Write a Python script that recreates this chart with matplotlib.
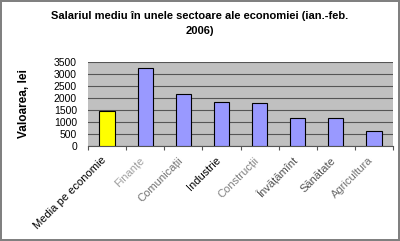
import numpy as np
import matplotlib.pyplot as plt

plt.rcParams['font.family'] = ['Liberation Sans', 'DejaVu Sans']

# date
sectoare = ["Media pe economie", "Finanțe", "Comunicații", "Industrie",
            "Construcții", "Învățămînt", "Sănătate", "Agricultura"]
salariu = [1440, 3270, 2150, 1830, 1780, 1150, 1150, 620]
culori_bare = ["#ffff00"] + ["#9999ff"] * 7
culori_text = ["black", "#a0a0a0", "#707070", "black",
               "#808080", "#505050", "#505050", "#707070"]

fig = plt.figure(figsize=(4.0, 2.41), dpi=100)
fig.patch.set_edgecolor("#808080")
fig.patch.set_linewidth(1.5)

ax = fig.add_axes([88 / 400, 1 - 146 / 241, 305 / 400, 84 / 241])
ax.set_facecolor("#c0c0c0")

x = np.arange(len(sectoare))
ax.bar(x, salariu, width=0.4, color=culori_bare, edgecolor="black",
       linewidth=0.8, zorder=3)

ax.set_xlim(-0.5, len(sectoare) - 0.5)
ax.set_ylim(0, 3500)
ax.set_yticks(np.arange(0, 3501, 500))
ax.yaxis.grid(True, color="#555555", linewidth=0.8, zorder=0)
ax.tick_params(axis="y", labelsize=7.5, length=0, pad=8)

# ticks at category boundaries, labels at centres
ax.set_xticks(np.arange(-0.5, len(sectoare)), minor=False)
ax.set_xticklabels([""] * (len(sectoare) + 1))
ax.tick_params(axis="x", length=3, direction="out", color="#555555")
for i, (s, c) in enumerate(zip(sectoare, culori_text)):
    ax.text(i - 0.15, -380, s, rotation=45, ha="right", va="top",
            rotation_mode="anchor", fontsize=8, color=c)

for side in ["top", "right", "left"]:
    ax.spines[side].set_visible(False)
ax.spines["bottom"].set_color("#555555")

ax.set_ylabel("Valoarea, lei", fontsize=8.5, fontweight="bold", labelpad=17)

fig.text(0.5, 0.955, "Salariul mediu în unele sectoare ale economiei (ian.-feb.\n2006)",
         ha="center", va="top", fontsize=8, fontweight="bold", linespacing=1.6)

fig.savefig("out.png", dpi=100, edgecolor=fig.get_edgecolor())
